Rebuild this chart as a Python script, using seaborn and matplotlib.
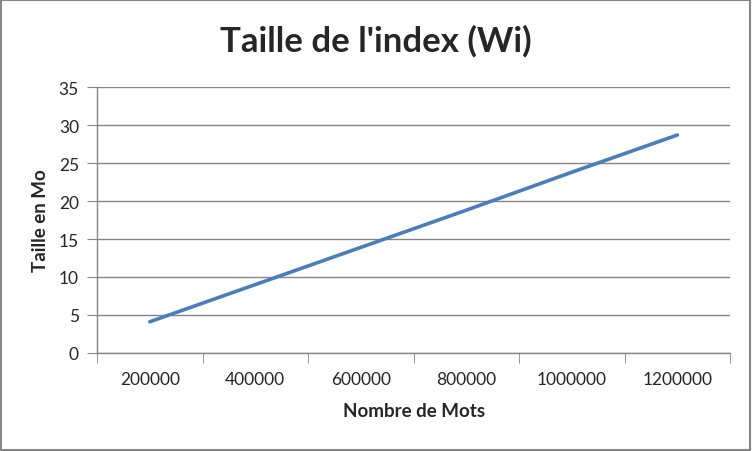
import matplotlib
matplotlib.use('Agg')
import matplotlib.pyplot as plt
import seaborn as sns
import pandas as pd
from matplotlib.patches import Rectangle
from matplotlib.ticker import FixedLocator

# Data
nb_mots = ['200000', '400000', '600000', '800000', '1000000', '1200000']
taille_mo = [4.1, 9.0, 13.9, 18.8, 23.8, 28.7]

df = pd.DataFrame({'mots': nb_mots, 'taille': taille_mo})

sns.set_style('white')
plt.rcParams['font.family'] = ['Lato', 'DejaVu Sans']

fig = plt.figure(figsize=(7.52, 4.52), dpi=100)
ax = fig.add_axes([0.129, 0.217, 0.842, 0.588])

sns.lineplot(data=df, x='mots', y='taille', sort=False, color='#4A7EBB', linewidth=2.6, ax=ax)

grid_col = '#868686'
ax.set_ylim(0, 35)
ax.set_yticks(range(0, 36, 5))
ax.yaxis.grid(True, color=grid_col, linewidth=1)
ax.set_xlim(-0.5, len(nb_mots) - 0.5)
ax.set_xticks(range(len(nb_mots)))
ax.set_xticklabels(nb_mots)
ax.xaxis.set_minor_locator(FixedLocator([i - 0.5 for i in range(len(nb_mots) + 1)]))

for s in ['top', 'right']:
    ax.spines[s].set_visible(False)
for s in ['left', 'bottom']:
    ax.spines[s].set_color(grid_col)
    ax.spines[s].set_linewidth(1)

ax.tick_params(axis='x', which='major', length=0, labelsize=12.5, pad=13)
ax.tick_params(axis='x', which='minor', length=7, color=grid_col, direction='out')
ax.tick_params(axis='y', which='major', length=7, color=grid_col, direction='out', labelsize=12.5, pad=6)
ax.tick_params(left=True, bottom=True)
ax.xaxis.set_tick_params(which='minor', bottom=True)

ax.set_xlabel('Nombre de Mots', fontsize=13.5, fontweight='bold', labelpad=11)
ax.set_ylabel('Taille en Mo', fontsize=13.5, fontweight='bold', labelpad=7)
fig.suptitle("Taille de l'index (Wi)", fontsize=25, fontweight='bold', y=0.945)

fig.patches.append(Rectangle((0.001, 0.002), 0.997, 0.995, transform=fig.transFigure,
                             fill=False, edgecolor=grid_col, linewidth=1.5))

fig.savefig('out.png', dpi=100)
